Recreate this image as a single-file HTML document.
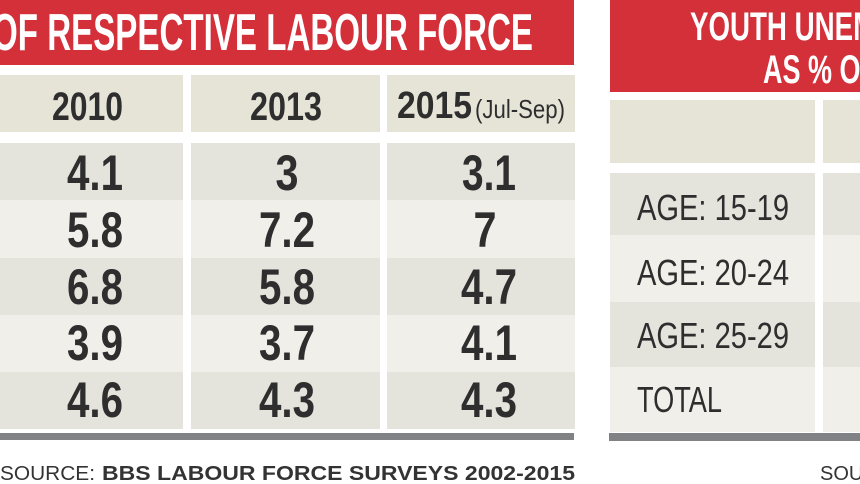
<!DOCTYPE html>
<html><head><meta charset="utf-8"><style>
html,body{margin:0;padding:0;background:#fff;width:860px;height:484px;overflow:hidden}
svg{display:block}
.c{font-family:"Liberation Sans Narrow","Liberation Sans",sans-serif}
</style></head><body>
<svg width="860" height="484" viewBox="0 0 860 484" class="c">
<rect width="860" height="484" fill="#fff"/>
<!-- left panel -->
<rect x="0" y="0" width="574" height="65" fill="#d3303a"/>
<text x="-8" y="50" font-size="52" font-weight="bold" fill="#fff" textLength="541" lengthAdjust="spacingAndGlyphs">OF RESPECTIVE LABOUR FORCE</text>
<g fill="#e6e4d7">
<rect x="0" y="75" width="183" height="57"/><rect x="191" y="75" width="189" height="57"/><rect x="387" y="75" width="188" height="57"/>
</g>
<g>
<rect x="0" y="143" width="575" height="57" fill="#e4e3dc"/>
<rect x="0" y="200" width="575" height="58" fill="#f0efe9"/>
<rect x="0" y="258" width="575" height="57" fill="#e4e3dc"/>
<rect x="0" y="315" width="575" height="57" fill="#f0efe9"/>
<rect x="0" y="372" width="575" height="57" fill="#e4e3dc"/>
<rect x="183" y="143" width="8" height="286" fill="#fff"/>
<rect x="380" y="143" width="7" height="286" fill="#fff"/>
</g>
<rect x="0" y="433" width="574" height="7" fill="#808285"/>
<g fill="#2e2e2e" font-weight="bold">
<text x="52" y="120" font-size="40" textLength="71" lengthAdjust="spacingAndGlyphs">2010</text>
<text x="250" y="120" font-size="40" textLength="72" lengthAdjust="spacingAndGlyphs">2013</text>
<text x="397" y="118" font-size="38" textLength="75" lengthAdjust="spacingAndGlyphs">2015</text>
<text x="475" y="118" font-size="26" font-weight="normal" textLength="90" lengthAdjust="spacingAndGlyphs">(Jul-Sep)</text>
</g>
<g fill="#2e2e2e" font-weight="bold" font-size="50" text-anchor="middle" lengthAdjust="spacingAndGlyphs">
<text x="95" y="190" textLength="56" lengthAdjust="spacingAndGlyphs">4.1</text><text x="287" y="190" textLength="23" lengthAdjust="spacingAndGlyphs">3</text><text x="489" y="190" textLength="54" lengthAdjust="spacingAndGlyphs">3.1</text>
<text x="95" y="247" textLength="56" lengthAdjust="spacingAndGlyphs">5.8</text><text x="287" y="247" textLength="56" lengthAdjust="spacingAndGlyphs">7.2</text><text x="485" y="247" textLength="23" lengthAdjust="spacingAndGlyphs">7</text>
<text x="95" y="304" textLength="56" lengthAdjust="spacingAndGlyphs">6.8</text><text x="287" y="304" textLength="56" lengthAdjust="spacingAndGlyphs">5.8</text><text x="489" y="304" textLength="56" lengthAdjust="spacingAndGlyphs">4.7</text>
<text x="95" y="360" textLength="56" lengthAdjust="spacingAndGlyphs">3.9</text><text x="287" y="360" textLength="56" lengthAdjust="spacingAndGlyphs">3.7</text><text x="489" y="360" textLength="56" lengthAdjust="spacingAndGlyphs">4.1</text>
<text x="95" y="417" textLength="56" lengthAdjust="spacingAndGlyphs">4.6</text><text x="287" y="417" textLength="56" lengthAdjust="spacingAndGlyphs">4.3</text><text x="489" y="417" textLength="56" lengthAdjust="spacingAndGlyphs">4.3</text>
</g>
<text x="0" y="480" font-size="20" fill="#333" font-family="Liberation Sans,sans-serif" textLength="95" lengthAdjust="spacingAndGlyphs">SOURCE:</text>
<text x="102" y="480" font-size="20" font-weight="bold" fill="#333" font-family="Liberation Sans,sans-serif" textLength="473" lengthAdjust="spacingAndGlyphs">BBS LABOUR FORCE SURVEYS 2002-2015</text>
<!-- right panel -->
<rect x="610" y="0" width="250" height="92" fill="#d3303a"/>
<text x="690" y="40" font-size="40" font-weight="bold" fill="#fff" textLength="340" lengthAdjust="spacingAndGlyphs">YOUTH UNEMPLOYMENT</text>
<text x="763" y="83" font-size="40" font-weight="bold" fill="#fff" textLength="114" lengthAdjust="spacingAndGlyphs">AS % OF</text>
<rect x="610" y="100" width="205" height="63" fill="#e6e4d7"/>
<rect x="823" y="100" width="37" height="63" fill="#e6e4d7"/>
<rect x="610" y="173" width="250" height="62" fill="#e4e3dc"/>
<rect x="610" y="235" width="250" height="67" fill="#f0efe9"/>
<rect x="610" y="302" width="250" height="65" fill="#e4e3dc"/>
<rect x="610" y="367" width="250" height="65" fill="#f0efe9"/>
<rect x="815" y="173" width="8" height="259" fill="#fff"/>
<rect x="609" y="433" width="251" height="8" fill="#808285"/>
<g fill="#2e2e2e" font-size="36">
<text x="637" y="220" textLength="152" lengthAdjust="spacingAndGlyphs">AGE: 15-19</text>
<text x="637" y="285" textLength="152" lengthAdjust="spacingAndGlyphs">AGE: 20-24</text>
<text x="637" y="348" textLength="152" lengthAdjust="spacingAndGlyphs">AGE: 25-29</text>
<text x="637" y="412" textLength="85" lengthAdjust="spacingAndGlyphs">TOTAL</text>
</g>
<text x="820" y="480" font-size="20" fill="#333" font-family="Liberation Sans,sans-serif">SOURCE</text>
</svg>
</body></html>
